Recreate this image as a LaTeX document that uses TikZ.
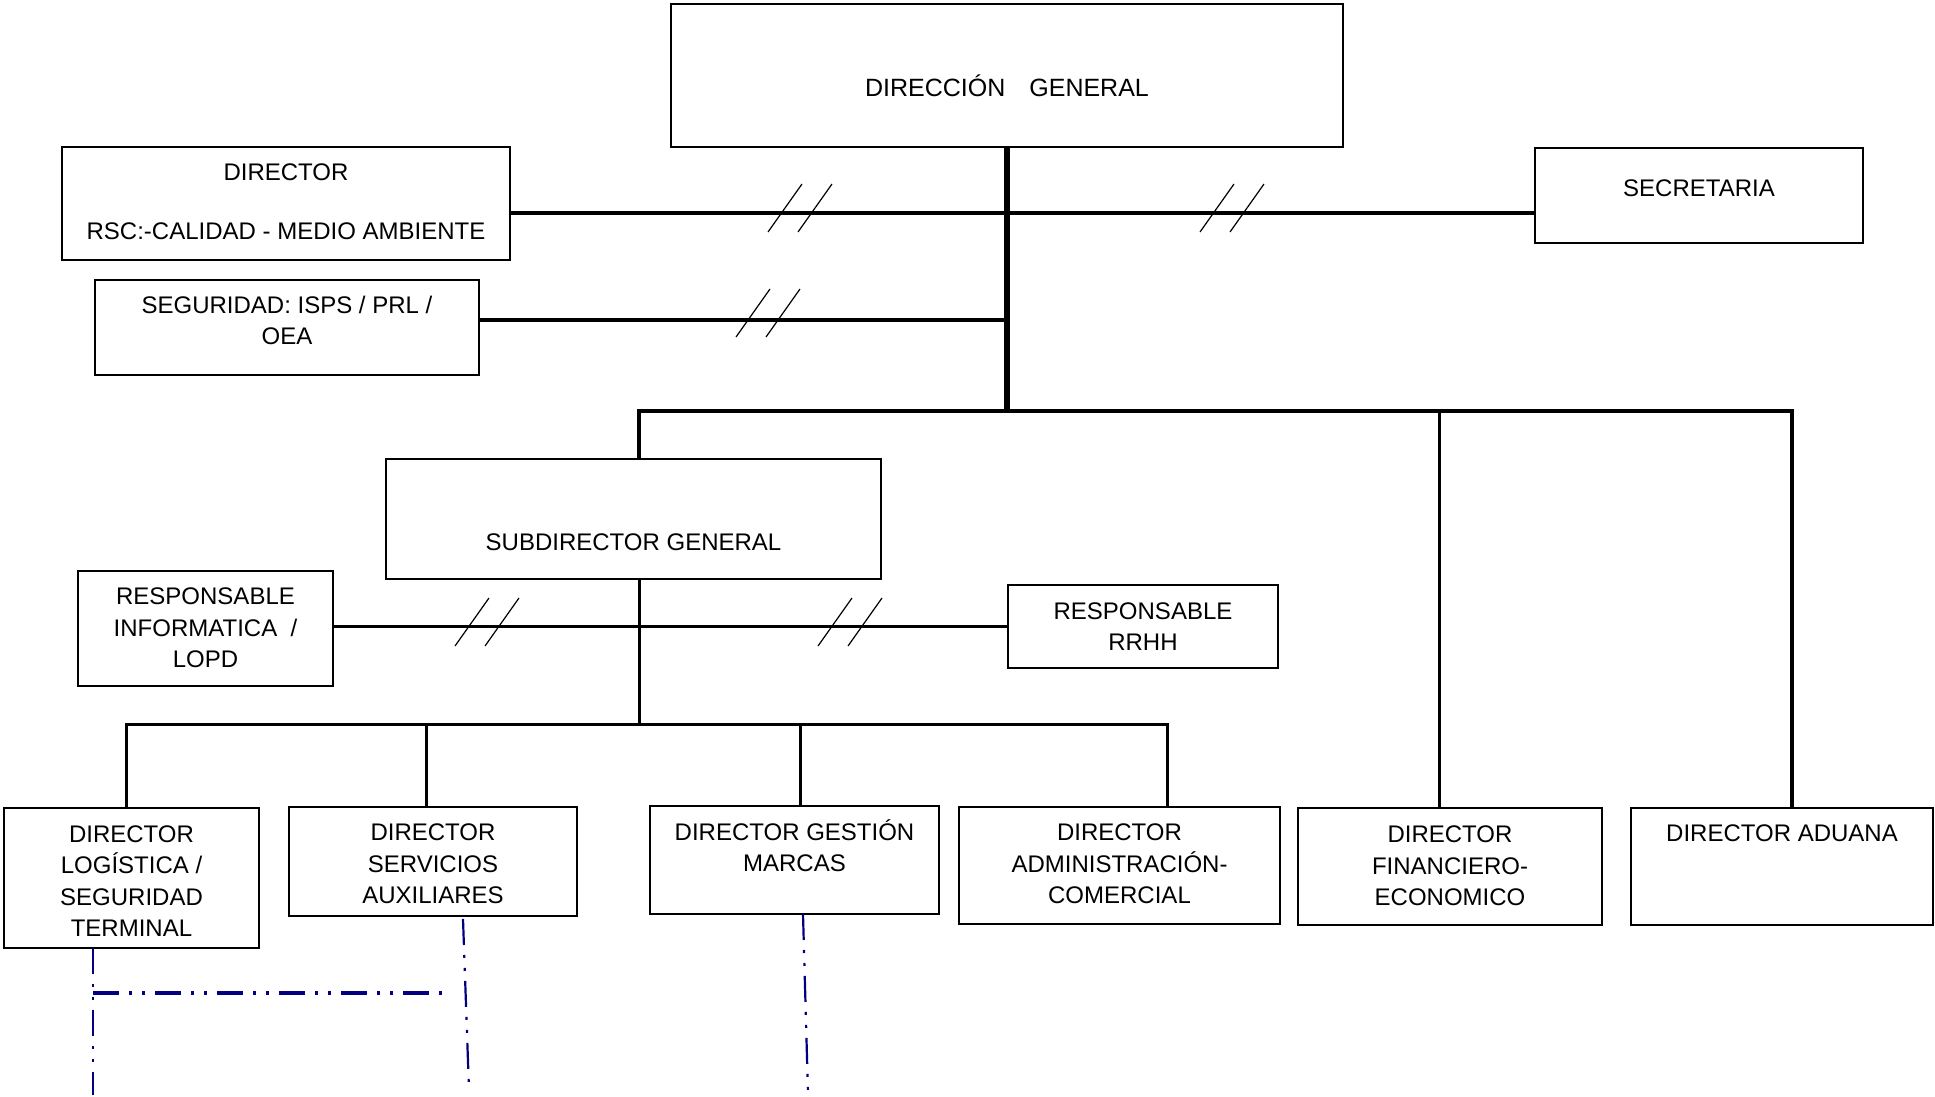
\documentclass[tikz,border=0pt]{standalone}
\usepackage{fontspec}
\setmainfont{Liberation Sans}
\usepackage{tikz}
\usetikzlibrary{calc}
\definecolor{linkblue}{RGB}{0,0,128}
\tikzset{
  orgbox/.style={draw, line width=1pt, anchor=north west, inner sep=0pt, outer sep=0pt},
  lbl/.style={align=center, anchor=base, inner sep=0pt, font=\fontsize{12pt}{15.75pt}\selectfont},
  conn/.style={line width=1.5pt},
  mainline/.style={line width=2.6pt},
  slash/.style={line width=0.6pt},
  linkline/.style={linkblue, line width=1.1pt, dash pattern=on 13pt off 5pt on 1.5pt off 5pt on 1.5pt off 5pt}
}

\begin{document}
\begin{tikzpicture}[x=0.5pt, y=-0.5pt]
    \useasboundingbox (0,0) rectangle (1935,1097);

    % Boxes
    \foreach \n/\x/\y/\w/\h in {dg/671/4/672/143, rsc/62/147/448/113, sec/1535/148/328/95,
        seg/95/280/384/95, sub/386/459/495/120, inf/78/571/255/115, rrhh/1008/585/270/83,
        log/4/808/255/140, serv/289/807/288/109, marc/650/806/289/108,
        adm/959/807/321/117, fin/1298/808/304/117, adu/1631/808/302/117}
        \node [orgbox, minimum width=\w*0.5pt, minimum height=\h*0.5pt] (\n) at (\x,\y) {};

    % Texts (placed at the baseline of their last line)
    \node [lbl, font=\fontsize{12.5pt}{15pt}\selectfont] (dgt) at (dg.center |- 0,96.5) {DIRECCIÓN\hspace{12pt}GENERAL};
    \node [lbl] (rsct) at (rsc.center |- 0,239.5) {DIRECTOR\\[13.75pt]RSC:-CALIDAD - MEDIO AMBIENTE};
    \node [lbl] (sect) at (sec.center |- 0,196.5) {SECRETARIA};
    \node [lbl] (segt) at (seg.center |- 0,344.5) {SEGURIDAD: ISPS / PRL /\\OEA};
    \node [lbl] (subt) at (sub.center |- 0,550.5) {SUBDIRECTOR GENERAL};
    \node [lbl] (inft) at (inf.center |- 0,667.5) {RESPONSABLE\\INFORMATICA\ \ /\\LOPD};
    \node [lbl] (rrhht) at (rrhh.center |- 0,650.5) {RESPONSABLE\\RRHH};
    \node [lbl] (logt) at (log.center |- 0,936.5) {DIRECTOR\\LOGÍSTICA /\\SEGURIDAD\\TERMINAL};
    \node [lbl] (servt) at (serv.center |- 0,903.5) {DIRECTOR\\SERVICIOS\\AUXILIARES};
    \node [lbl] (marct) at (marc.center |- 0,871.5) {DIRECTOR GESTIÓN\\MARCAS};
    \node [lbl] (admt) at (adm.center |- 0,903.5) {DIRECTOR\\ADMINISTRACIÓN-\\COMERCIAL};
    \node [lbl] (fint) at (fin.center |- 0,905.5) {DIRECTOR\\FINANCIERO-\\ECONOMICO};
    \node [lbl] (adut) at (adu.center |- 0,841.5) {DIRECTOR ADUANA};

    % Upper lines
    \coordinate (bus1) at (1008,411);
    \coordinate (jtop) at (1008,213);
    \coordinate (jseg) at (1008,320);
    \coordinate (dsub) at (639,0);
    \coordinate (dfin) at (1439,0);
    \coordinate (dadu) at (1792,0);
    \draw [conn, line width=1.8pt] (rsc.east |- jtop) -- (sec.west |- jtop);
    \draw [conn, line width=1.8pt] (seg.east |- jseg) -- (jseg);
    \draw [conn, line width=1.8pt] (dsub |- sub.north) |- (bus1) -| (dadu |- adu.north);
    \draw [conn] (dfin |- bus1) -- (dfin |- fin.north);
    \draw [mainline] (dg.south) -- (dg.south |- bus1);

    % Lower lines
    \coordinate (bus2) at (639,724);
    \draw [conn] (dsub |- sub.south) -- (bus2);
    \draw [conn] (inf.east |- rrhh.west) -- (rrhh.west);
    \draw [conn] (126,0 |- log.north) |- (bus2) -| (1167,0 |- adm.north);
    \foreach \n/\x in {serv/426, marc/800}
        \draw [conn] (\x,0 |- bus2) -- (\x,0 |- \n.north);

    % Breaks
    \foreach \x/\y in {800/208, 1232/208, 768/313, 487/622, 850/622}
        \foreach \d in {-15,15}
            \draw [slash] (\x+\d-17,\y+24) -- (\x+\d+17,\y-24);

    % Blue links
    \coordinate (lkl) at (93,1095);
    \coordinate (lkh) at (442,993);
    \coordinate (lkm1) at (463,919);
    \coordinate (lkm2) at (469,1090);
    \coordinate (lkr1) at (803,0);
    \coordinate (lkr2) at (808,1093);
    \draw [linkline] (lkl |- log.south) -- (lkl);
    \draw [linkline, line width=1.6pt] (lkl |- lkh) -- (lkh);
    \draw [linkline] (lkm1) -- (lkm2);
    \draw [linkline] (lkr1 |- marc.south) -- (lkr2);
\end{tikzpicture}
\end{document}
